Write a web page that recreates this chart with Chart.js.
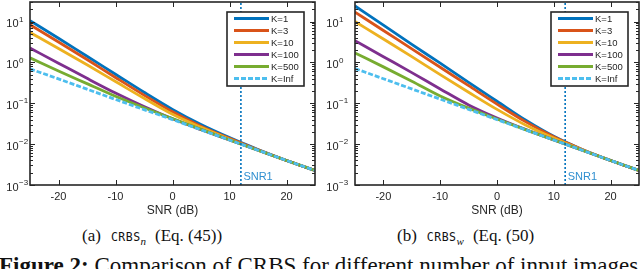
<!DOCTYPE html>
<html lang="en">
<head>
<meta charset="UTF-8">
<title>CRBS vs SNR</title>
<script src="https://cdn.jsdelivr.net/npm/chart.js"></script>
<style>
    html, body { margin: 0; padding: 0; background: #fff; }
    body {
        width: 640px; height: 269px; overflow: hidden; position: relative;
        font-family: 'Liberation Serif', 'Times New Roman', serif; color: #111;
    }
    .panel { position: absolute; top: 0; width: 320px; height: 220px; }
    .caption { position: absolute; top: 226px; font-size: 17px; white-space: nowrap; }
    .sc { font-family: 'DejaVu Sans Mono', monospace; font-size: 11.5px; letter-spacing: 0.5px; margin-left: 10px; }
    .caption sub { font-style: italic; font-size: 11px; }
    .eq { margin-left: 9px; }
    .figline { position: absolute; left: -1px; top: 253px; font-size: 23px; white-space: nowrap; }
</style>
</head>
<body>

<div class="panel" style="left:0"><canvas id="chartN" width="320" height="220"></canvas></div>
<div class="panel" style="left:320px"><canvas id="chartW" width="320" height="220"></canvas></div>

<div class="caption" style="left:82px">(a)<span class="sc">CRBS</span><sub>n</sub><span class="eq">(Eq. (45))</span></div>
<div class="caption" style="left:397px">(b)<span class="sc">CRBS</span><sub>w</sub><span class="eq">(Eq. (50)</span></div>
<div class="figline"><b>Figure 2:</b> Comparison of CRBS for different number of input images</div>

<script>
// --- data ---
const snr = [-25, -20, -15, -10, -5, 0, 5, 10, 15, 20, 25];
const kLabels = ['K=1', 'K=3', 'K=10', 'K=100', 'K=500', 'K=Inf'];
const xTickVals = [-20, -10, 0, 10, 20];
const yDecades = [1e-3, 1e-2, 1e-1, 1, 10];
const snr1 = 12;

// (a) CRBS_n
const nK1   = [10.5, 3.89, 1.41, 0.513, 0.186, 0.0708, 0.0302, 0.01445, 0.00741, 0.00398, 0.00226];
const nK3   = [8.32, 3.16, 1.175, 0.427, 0.158, 0.0617, 0.0275, 0.0138, 0.00724, 0.00398, 0.00226];
const nK10  = [5.37, 2.19, 0.871, 0.339, 0.132, 0.0537, 0.0257, 0.0132, 0.00708, 0.00398, 0.00226];
const nK100 = [2.24, 0.955, 0.407, 0.178, 0.0832, 0.0417, 0.0226, 0.0126, 0.00708, 0.00398, 0.00226];
const nK500 = [1.29, 0.617, 0.302, 0.148, 0.0776, 0.0422, 0.0229, 0.0127, 0.00708, 0.00398, 0.00226];
const nKInf = [0.692, 0.394, 0.221, 0.124, 0.070, 0.0398, 0.0224, 0.0126, 0.00708, 0.00398, 0.00226];

// (b) CRBS_w
const wK1   = [24.0, 8.13, 2.75, 0.955, 0.324, 0.112, 0.0389, 0.0155, 0.00741, 0.00398, 0.00226];
const wK3   = [17.0, 6.03, 2.14, 0.759, 0.269, 0.0955, 0.0355, 0.0151, 0.00741, 0.00398, 0.00226];
const wK10  = [10.0, 3.72, 1.38, 0.501, 0.186, 0.0708, 0.0295, 0.0141, 0.00724, 0.00398, 0.00226];
const wK100 = [3.39, 1.38, 0.562, 0.224, 0.0912, 0.0437, 0.0229, 0.0126, 0.00708, 0.00398, 0.00226];
const wK500 = [1.70, 0.776, 0.347, 0.151, 0.0759, 0.0412, 0.0226, 0.0126, 0.00708, 0.00398, 0.00226];
const wKInf = [0.708, 0.398, 0.224, 0.126, 0.0708, 0.0398, 0.0224, 0.0126, 0.00708, 0.00398, 0.00226];

const colors = ['#0072BD', '#D95319', '#EDB120', '#7E2F8E', '#77AC30', '#4DBEEE'];
const axisColor = '#262626';

// MATLAB-style box, inside ticks, 10^n labels, legend and SNR1 label
const matlabAxes = {
    id: 'matlabAxes',
    afterDatasetsDraw(chart, args, opts) {
        const { ctx, chartArea: a, scales: { x, y } } = chart;
        ctx.save();
        ctx.strokeStyle = axisColor;
        ctx.lineWidth = 1;
        ctx.beginPath();
        for (let e = -3; e <= 1; e++) {
            for (let m = 1; m <= 9; m++) {
                const v = m * Math.pow(10, e);
                if (v < y.min || v > y.max) continue;
                const py = Math.round(y.getPixelForValue(v)) + 0.5;
                const len = m === 1 ? 5 : 3;
                ctx.moveTo(a.left, py); ctx.lineTo(a.left + len, py);
                ctx.moveTo(a.right, py); ctx.lineTo(a.right - len, py);
            }
        }
        xTickVals.forEach(v => {
            const px = Math.round(x.getPixelForValue(v)) + 0.5;
            ctx.moveTo(px, a.bottom); ctx.lineTo(px, a.bottom - 5);
            ctx.moveTo(px, a.top); ctx.lineTo(px, a.top + 5);
        });
        ctx.stroke();
        ctx.lineWidth = 1.6;
        ctx.strokeRect(a.left, a.top, a.right - a.left, a.bottom - a.top);

        // y labels 10^n
        ctx.fillStyle = axisColor;
        ctx.textBaseline = 'middle';
        yDecades.forEach(v => {
            const py = y.getPixelForValue(v);
            const exp = String(Math.round(Math.log10(v))).replace('-', '\u2212');
            const xr = a.left - opts.labelGap;
            ctx.font = '11px "Liberation Sans", Arial, sans-serif';
            ctx.textAlign = 'right';
            ctx.fillText('10', xr, py + 2.5);
            ctx.font = '8px "Liberation Sans", Arial, sans-serif';
            ctx.textAlign = 'left';
            ctx.fillText(exp, xr + 0.5, py - 2);
        });

        // SNR1 label
        ctx.fillStyle = '#2F8FD0';
        ctx.font = '11px "Liberation Sans", Arial, sans-serif';
        ctx.textAlign = 'left';
        ctx.fillText('SNR1', x.getPixelForValue(snr1) + 2.5, a.bottom - 8);

        // legend
        const lw = 77, lh = 74;
        const lx = a.right - 11 - lw, ly = 12;
        ctx.fillStyle = '#fff';
        ctx.fillRect(lx, ly, lw, lh);
        ctx.strokeStyle = axisColor;
        ctx.lineWidth = 1.6;
        ctx.strokeRect(lx, ly, lw, lh);
        kLabels.forEach((lab, i) => {
            const ds = chart.data.datasets[i];
            const yy = ly + 6.5 + i * 12;
            ctx.strokeStyle = ds.borderColor;
            ctx.lineWidth = 3;
            ctx.setLineDash(ds.borderDash || []);
            ctx.beginPath();
            ctx.moveTo(lx + 7, yy); ctx.lineTo(lx + 42, yy);
            ctx.stroke();
            ctx.setLineDash([]);
            ctx.fillStyle = axisColor;
            ctx.font = '9.5px "Liberation Sans", Arial, sans-serif';
            ctx.fillText(lab, lx + 44, yy + 0.5);
        });
        ctx.restore();
    }
};

function makeChart(id, series, pad, labelGap) {
    const datasets = series.map((vals, i) => ({
        label: kLabels[i],
        data: snr.map((s, j) => ({ x: s, y: vals[j] })),
        borderColor: colors[i],
        borderWidth: 2.8,
        borderDash: i === 5 ? [5, 2] : [],
        pointRadius: 0,
        cubicInterpolationMode: 'monotone',
        order: 5 - i
    }));
    datasets.push({
        label: 'SNR1',
        data: [{ x: snr1, y: 1e-3 }, { x: snr1, y: 30 }],
        borderColor: '#0072BD',
        borderWidth: 1.6,
        borderDash: [2, 2],
        pointRadius: 0,
        order: -1
    });

    return new Chart(document.getElementById(id), {
        type: 'line',
        data: { datasets },
        options: {
            responsive: false,
            animation: false,
            layout: { padding: pad },
            plugins: { legend: { display: false }, tooltip: { enabled: false }, matlabAxes: { labelGap } },
            scales: {
                x: {
                    type: 'linear', min: -25, max: 25,
                    afterBuildTicks: s => { s.ticks = xTickVals.map(v => ({ value: v })); },
                    afterFit: s => { s.height = 35; },
                    grid: { display: false, drawTicks: false },
                    border: { display: false },
                    ticks: { color: axisColor, padding: 5, font: { family: 'Liberation Sans', size: 11 } },
                    title: {
                        display: true, text: 'SNR (dB)', color: axisColor,
                        font: { family: 'Liberation Sans', size: 12 },
                        padding: { top: 0, bottom: 2 }
                    }
                },
                y: { type: 'logarithmic', min: 1e-3, max: 30, display: false }
            }
        },
        plugins: [matlabAxes]
    });
}

makeChart('chartN', [nK1, nK3, nK10, nK100, nK500, nKInf], { left: 30, right: 5, top: 2, bottom: 0 }, 11.5);
makeChart('chartW', [wK1, wK3, wK10, wK100, wK500, wKInf], { left: 35, right: 1, top: 2, bottom: 0 }, 16.5);
</script>
</body>
</html>
